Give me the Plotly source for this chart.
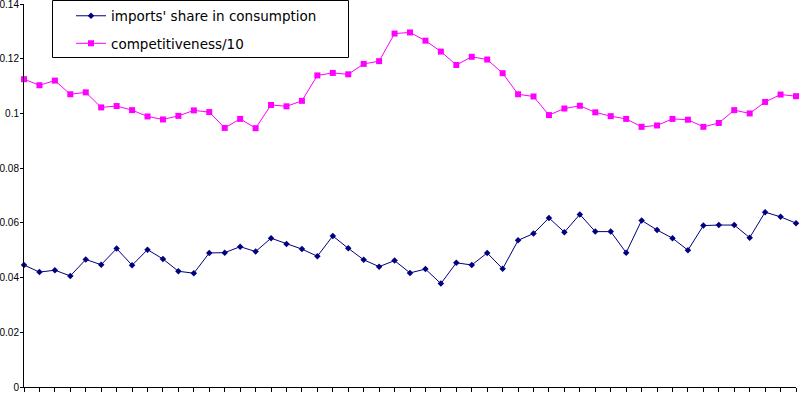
import plotly.graph_objects as go

periods = list(range(1, 52))

imports_share = [
    0.0446, 0.0420, 0.0427, 0.0406, 0.0466, 0.0447, 0.0506, 0.0445, 0.0502, 0.0468,
    0.0423, 0.0416, 0.0490, 0.0491, 0.0513, 0.0495, 0.0544, 0.0523, 0.0504, 0.0478,
    0.0552, 0.0507, 0.0465, 0.0440, 0.0462, 0.0417, 0.0431, 0.0378, 0.0454, 0.0446,
    0.0490, 0.0432, 0.0536, 0.0561, 0.0618, 0.0566, 0.0631, 0.0568, 0.0568, 0.0491,
    0.0609, 0.0574, 0.0544, 0.0500, 0.0590, 0.0592, 0.0592, 0.0546, 0.0639, 0.0622,
    0.0599,
]

competitiveness_10 = [
    0.1125, 0.1103, 0.1120, 0.1070, 0.1077, 0.1022, 0.1027, 0.1012, 0.0989, 0.0978,
    0.0991, 0.1011, 0.1005, 0.0947, 0.0980, 0.0946, 0.1031, 0.1026, 0.1046, 0.1139,
    0.1148, 0.1143, 0.1181, 0.1191, 0.1292, 0.1296, 0.1266, 0.1226, 0.1177, 0.1207,
    0.1197, 0.1147, 0.1070, 0.1062, 0.0994, 0.1018, 0.1028, 0.1004, 0.0990, 0.0980,
    0.0951, 0.0956, 0.0980, 0.0977, 0.0951, 0.0965, 0.1012, 0.1000, 0.1042, 0.1069,
    0.1063,
]

series_names = ["imports' share in consumption", "competitiveness/10"]

FONT = "DejaVu Sans"
TICK_FONT = "Liberation Sans"

fig = go.Figure()
fig.add_trace(go.Scatter(
    x=periods, y=imports_share, name=series_names[0], mode="lines+markers",
    line=dict(color="#000080", width=1),
    marker=dict(symbol="diamond", size=5, color="#000080"),
    cliponaxis=False, legendgroup="a",
))
fig.add_trace(go.Scatter(
    x=periods, y=competitiveness_10, name=series_names[1], mode="lines+markers",
    line=dict(color="#FF00FF", width=1),
    marker=dict(symbol="square", size=6, color="#FF00FF"),
    cliponaxis=False, legendgroup="b",
))

W, H = 804, 394
L, R, T, B = 24, 8, 4, 7
pw, ph = W - L - R, H - T - B

def px2paper_x(px):
    return (px - L) / pw

def py2paper_y(py):
    return (H - B - py) / ph

fig.add_shape(
    type="rect", xref="paper", yref="paper",
    x0=px2paper_x(52.5), x1=px2paper_x(348.5),
    y0=py2paper_y(57.5), y1=py2paper_y(0.5),
    line=dict(color="black", width=1), fillcolor="rgba(0,0,0,0)",
)

fig.update_layout(
    width=W, height=H,
    margin=dict(l=L, r=R, t=T, b=B, autoexpand=False),
    paper_bgcolor="white", plot_bgcolor="white",
    font=dict(family=FONT, color="black"),
    showlegend=True,
    legend=dict(
        x=px2paper_x(71), y=py2paper_y(0.5), xanchor="left", yanchor="top",
        bgcolor="rgba(0,0,0,0)", borderwidth=0,
        font=dict(family=FONT, size=13.5, color="black"),
        traceorder="grouped", tracegroupgap=7,
    ),
    xaxis=dict(
        range=[periods[0], periods[-1]], showgrid=False, zeroline=False,
        showline=True, linecolor="black", linewidth=1,
        ticks="outside", ticklen=4, tickcolor="black", tickwidth=1,
        tickmode="linear", tick0=periods[0], dtick=1,
        showticklabels=False,
    ),
    yaxis=dict(
        range=[0, 0.14], showgrid=False, zeroline=False,
        showline=True, linecolor="black", linewidth=1,
        ticks="outside", ticklen=3, tickcolor="black", tickwidth=1,
        tickmode="linear", tick0=0, dtick=0.02,
        tickfont=dict(family=TICK_FONT, size=10, color="black"),
        ticklabelstandoff=-1, ticklabeloverflow="allow",
        automargin=False,
    ),
)

fig.write_html("out.html")
